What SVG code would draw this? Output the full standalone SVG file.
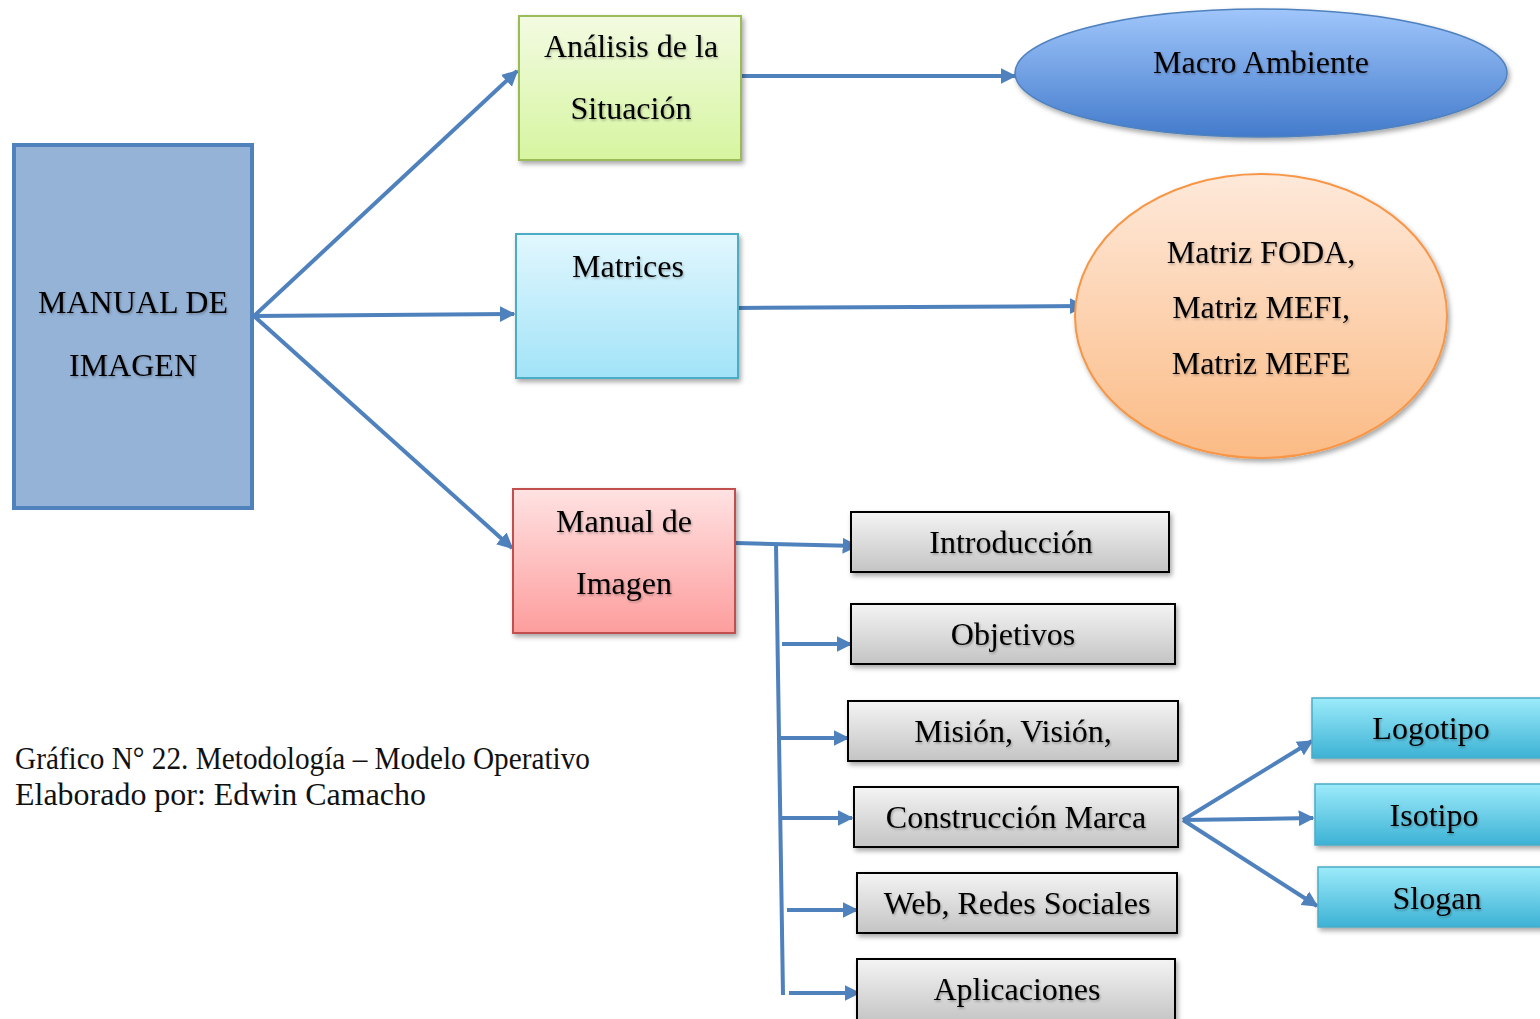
<svg xmlns="http://www.w3.org/2000/svg" width="1540" height="1019" viewBox="0 0 1540 1019">
  <defs>
    <linearGradient id="gGreen" x1="0" y1="0" x2="0" y2="1">
      <stop offset="0" stop-color="#f3fbe2"/>
      <stop offset="1" stop-color="#d6f5a0"/>
    </linearGradient>
    <linearGradient id="gSky" x1="0" y1="0" x2="0" y2="1">
      <stop offset="0" stop-color="#e2f7fe"/>
      <stop offset="1" stop-color="#a2e3f8"/>
    </linearGradient>
    <linearGradient id="gRose" x1="0" y1="0" x2="0" y2="1">
      <stop offset="0" stop-color="#ffe2e2"/>
      <stop offset="1" stop-color="#fd9d9d"/>
    </linearGradient>
    <linearGradient id="gBlue" x1="0" y1="0" x2="0" y2="1">
      <stop offset="0" stop-color="#a0c6fb"/>
      <stop offset="1" stop-color="#437bcc"/>
    </linearGradient>
    <linearGradient id="gPeach" x1="0" y1="0" x2="0" y2="1">
      <stop offset="0" stop-color="#fee9da"/>
      <stop offset="1" stop-color="#fbbb85"/>
    </linearGradient>
    <linearGradient id="gGray" x1="0" y1="0" x2="0" y2="1">
      <stop offset="0" stop-color="#f4f4f4"/>
      <stop offset="1" stop-color="#c4c4c4"/>
    </linearGradient>
    <linearGradient id="gCyan" x1="0" y1="0" x2="0" y2="1">
      <stop offset="0" stop-color="#9cebfa"/>
      <stop offset="1" stop-color="#3db2d5"/>
    </linearGradient>
    <filter id="shadow" x="-10%" y="-10%" width="125%" height="130%">
      <feDropShadow dx="2" dy="3" stdDeviation="2.5" flood-color="#000" flood-opacity="0.35"/>
    </filter>
    <filter id="tshadow" x="-5%" y="-20%" width="110%" height="150%">
      <feDropShadow dx="1" dy="1.5" stdDeviation="1" flood-color="#000" flood-opacity="0.3"/>
    </filter>
    <marker id="arrow" viewBox="0 0 10 10" refX="9" refY="5" markerWidth="4" markerHeight="4.2" orient="auto" markerUnits="strokeWidth">
      <path d="M0,0 L10,5 L0,10 z" fill="#4f81bd"/>
    </marker>
  </defs>
  <style>
    .lbl { font-family: "Liberation Serif", "Times New Roman", serif; font-size: 32px; fill: #000; text-anchor: middle; filter: url(#tshadow); }
    .cap { font-family: "Liberation Serif", "Times New Roman", serif; font-size: 31.5px; fill: #111; }
    .conn { stroke: #4f81bd; stroke-width: 4; fill: none; }
    .gray { fill: url(#gGray); stroke: #000; stroke-width: 2; filter: url(#shadow); }
    .cyan { fill: url(#gCyan); stroke: #4bacc6; stroke-width: 1.5; filter: url(#shadow); }
  </style>

  <rect width="1540" height="1019" fill="#fff"/>

  <!-- connectors -->
  <g id="connectors">
    <line class="conn" x1="254" y1="316" x2="517" y2="71" marker-end="url(#arrow)"/>
    <line class="conn" x1="254" y1="316" x2="514" y2="314" marker-end="url(#arrow)"/>
    <line class="conn" x1="254" y1="316" x2="512" y2="548" marker-end="url(#arrow)"/>
    <line class="conn" x1="741" y1="76" x2="1015" y2="76" marker-end="url(#arrow)"/>
    <line class="conn" x1="738" y1="308" x2="1084" y2="306" marker-end="url(#arrow)"/>
    <line class="conn" x1="736" y1="543" x2="857" y2="546" marker-end="url(#arrow)"/>
    <line class="conn" x1="776" y1="544" x2="783" y2="995"/>
    <line class="conn" x1="782" y1="644" x2="851" y2="644" marker-end="url(#arrow)"/>
    <line class="conn" x1="780" y1="738" x2="848" y2="738" marker-end="url(#arrow)"/>
    <line class="conn" x1="781" y1="818" x2="852" y2="818" marker-end="url(#arrow)"/>
    <line class="conn" x1="787" y1="910" x2="857" y2="910" marker-end="url(#arrow)"/>
    <line class="conn" x1="789" y1="993" x2="859" y2="993" marker-end="url(#arrow)"/>
    <line class="conn" x1="1183" y1="820" x2="1312" y2="741" marker-end="url(#arrow)"/>
    <line class="conn" x1="1183" y1="820" x2="1313" y2="818" marker-end="url(#arrow)"/>
    <line class="conn" x1="1183" y1="820" x2="1317" y2="906" marker-end="url(#arrow)"/>
  </g>

  <!-- root node -->
  <g id="manual-de-imagen-root">
    <rect x="14" y="145" width="238" height="363" fill="#95b3d7" stroke="#4f81bd" stroke-width="4"/>
    <text class="lbl" x="133" y="313" font-size="33">MANUAL DE</text>
    <text class="lbl" x="133" y="376" font-size="33">IMAGEN</text>
  </g>

  <g id="analisis">
    <rect x="519" y="16" width="222" height="144" fill="url(#gGreen)" stroke="#9bbb59" stroke-width="2" filter="url(#shadow)"/>
    <text class="lbl" x="631" y="57">Análisis de la</text>
    <text class="lbl" x="631" y="119">Situación</text>
  </g>

  <g id="macro-ambiente">
    <ellipse cx="1261" cy="73" rx="246" ry="64" fill="url(#gBlue)" stroke="#4f81bd" stroke-width="1.5" filter="url(#shadow)"/>
    <text class="lbl" x="1261" y="73">Macro Ambiente</text>
  </g>

  <g id="matrices">
    <rect x="516" y="234" width="222" height="144" fill="url(#gSky)" stroke="#4bacc6" stroke-width="2" filter="url(#shadow)"/>
    <text class="lbl" x="628" y="277">Matrices</text>
  </g>

  <g id="matrices-lista">
    <ellipse cx="1261" cy="316" rx="186" ry="142" fill="url(#gPeach)" stroke="#f79646" stroke-width="2" filter="url(#shadow)"/>
    <text class="lbl" x="1261" y="263">Matriz FODA,</text>
    <text class="lbl" x="1261" y="318">Matriz MEFI,</text>
    <text class="lbl" x="1261" y="374">Matriz MEFE</text>
  </g>

  <g id="manual-de-imagen">
    <rect x="513" y="489" width="222" height="144" fill="url(#gRose)" stroke="#c0504d" stroke-width="2" filter="url(#shadow)"/>
    <text class="lbl" x="624" y="532">Manual de</text>
    <text class="lbl" x="624" y="594">Imagen</text>
  </g>

  <g id="introduccion">
    <rect class="gray" x="851" y="512" width="318" height="60"/>
    <text class="lbl" x="1011" y="553">Introducción</text>
  </g>
  <g id="objetivos">
    <rect class="gray" x="851" y="604" width="324" height="60"/>
    <text class="lbl" x="1013" y="645">Objetivos</text>
  </g>
  <g id="mision-vision">
    <rect class="gray" x="848" y="701" width="330" height="60"/>
    <text class="lbl" x="1013" y="742">Misión, Visión,</text>
  </g>
  <g id="construccion-marca">
    <rect class="gray" x="854" y="787" width="324" height="60"/>
    <text class="lbl" x="1016" y="828">Construcción Marca</text>
  </g>
  <g id="web-redes">
    <rect class="gray" x="857" y="873" width="320" height="60"/>
    <text class="lbl" x="1017" y="914">Web, Redes Sociales</text>
  </g>
  <g id="aplicaciones">
    <rect class="gray" x="857" y="959" width="318" height="64"/>
    <text class="lbl" x="1017" y="1000">Aplicaciones</text>
  </g>

  <g id="logotipo">
    <rect class="cyan" x="1312" y="698" width="232" height="60"/>
    <text class="lbl" x="1431" y="739">Logotipo</text>
  </g>
  <g id="isotipo">
    <rect class="cyan" x="1315" y="784" width="229" height="61"/>
    <text class="lbl" x="1434" y="826">Isotipo</text>
  </g>
  <g id="slogan">
    <rect class="cyan" x="1318" y="867" width="226" height="60"/>
    <text class="lbl" x="1437" y="909">Slogan</text>
  </g>

  <!-- caption -->
  <g id="caption">
    <text class="cap" x="15" y="769" textLength="575" lengthAdjust="spacingAndGlyphs">Gráfico N° 22. Metodología – Modelo Operativo</text>
    <text class="cap" x="15" y="805" textLength="411" lengthAdjust="spacingAndGlyphs">Elaborado por: Edwin Camacho</text>
  </g>
</svg>
